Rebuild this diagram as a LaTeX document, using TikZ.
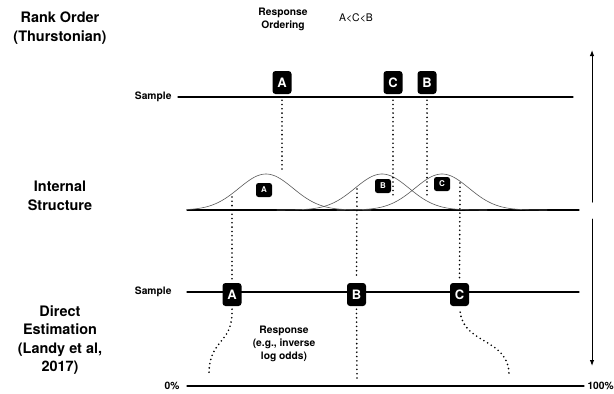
\documentclass[tikz,border=0pt]{standalone}
\usepackage{fontspec}
\setmainfont{TeX Gyre Heros}
\usepackage{tikz}
\usetikzlibrary{arrows.meta}
\tikzset{
    bigbox/.style = {fill=black, text=white, rounded corners=3bp, inner sep=0pt,
        minimum width=19bp, minimum height=23bp, font=\bfseries\fontsize{13}{13}\selectfont},
    smallbox/.style = {fill=black, text=white, rounded corners=2.5bp, inner sep=0pt,
        minimum width=16bp, minimum height=14bp, font=\bfseries\fontsize{8}{8}\selectfont},
    dots/.style = {line width=1.8bp, dash pattern=on 0pt off 4.3bp, line cap=round},
    bigtitle/.style = {align=center, font=\bfseries\fontsize{14.5}{18.5}\selectfont},
    smalltitle/.style = {align=center, font=\bfseries\fontsize{10.3}{13.3}\selectfont}
}
\begin{document}
\begin{tikzpicture}[line cap=round,line join=round,x=1bp,y=-1bp]
\useasboundingbox (0,0) rectangle (614,393);
\node[bigtitle] (rank) at (60,28) {Rank Order\\(Thurstonian)};
\node[bigtitle] (internal) at (60,196) {Internal\\Structure};
\node[bigtitle] (direct) at (60,340) {Direct\\Estimation\\(Landy et al,\\2017)};
\node[smalltitle] (ordering) at (283,19) {Response\\Ordering};
\node[font=\fontsize{10.5}{12}\selectfont] (order) at (356,18) {A<C<B};
\node[smalltitle] (response) at (284,344) {Response\\(e.g., inverse\\log odds)};
\node[smalltitle, anchor=east] (sampletop) at (175,97) {Sample};
\node[smalltitle, anchor=east] (samplebot) at (175,292) {Sample};
\node[smalltitle, anchor=east] (zero) at (183,386) {0\%};
\node[smalltitle, anchor=west] (hundred) at (584,386) {100\%};
\draw [line width=1.2bp] (sampletop.east) ++(3,0) -- (573,97);
\draw [line width=1.2bp] (samplebot.east) ++(12,0) -- (579,292);
\draw [line width=1.2bp] (zero.east) ++(4,0) -- (hundred.west);
\draw [line width=1.2bp] (187,210) -- (579,210);
\draw [gray!70!black, line width=0.6bp] plot[domain=187:371, samples=90] (\x, {210-36*exp(-0.5*((\x-266)/27)*((\x-266)/27))});
\draw [gray!70!black, line width=0.6bp] plot[domain=277:487, samples=90] (\x, {210-36*exp(-0.5*((\x-382)/27)*((\x-382)/27))});
\draw [gray!70!black, line width=0.6bp] plot[domain=337:547, samples=90] (\x, {210-36*exp(-0.5*((\x-442)/27)*((\x-442)/27))});
\node[bigbox] (rankA) at (282,82.5) {A};
\node[bigbox] (rankC) at (393,82.5) {C};
\node[bigbox] (rankB) at (427,82.5) {B};
\node[smallbox] (innerA) at (264,190) {A};
\node[smallbox] (innerB) at (383,186) {B};
\node[smallbox] (innerC) at (442,184) {C};
\node[bigbox] (estA) at (232,294.5) {A};
\node[bigbox] (estB) at (356.5,294.5) {B};
\node[bigbox] (estC) at (459.5,294.5) {C};
\coordinate (pickA) at (282,172);
\coordinate (pickC) at (393,198);
\coordinate (pickB) at (427,198);
\coordinate (drawA) at (232,197);
\coordinate (drawB) at (357,189);
\coordinate (drawC) at (460,183);
\coordinate (endA) at (209,374);
\coordinate (endB) at (357,380);
\coordinate (endC) at (509,376);
\draw [dots, shorten <=6bp] (rankA.south) -- (pickA);
\draw [dots, shorten <=6bp] (rankC.south) -- (pickC);
\draw [dots, shorten <=6bp] (rankB.south) -- (pickB);
\draw [dots, shorten >=4bp] (drawA) -- (estA.north);
\draw [dots, shorten >=4bp] (drawB) -- (estB.north);
\draw [dots, shorten >=4bp] (drawC) -- (estC.north);
\draw [dots, shorten <=3bp] (estA.south) .. controls (233,345) and (209,338) .. (endA);
\draw [dots, shorten <=3bp] (estB.south) -- (endB);
\draw [dots, shorten <=6bp] (estC.south) .. controls (464,345) and (510,338) .. (endC);
\draw [line width=1bp, -{Latex[length=6bp,width=4.5bp]}] (592,202) -- (592,50);
\draw [line width=1bp, -{Latex[length=6bp,width=4.5bp]}] (592,219) -- (592,366);
\end{tikzpicture}
\end{document}
